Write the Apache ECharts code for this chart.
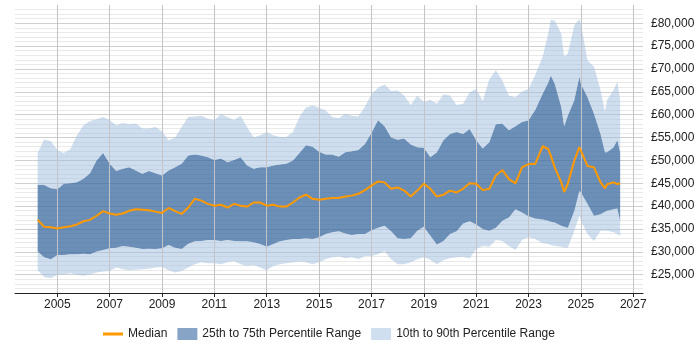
<!DOCTYPE html>
<html>
<head>
<meta charset="utf-8">
<script src="https://cdn.jsdelivr.net/npm/echarts@6/dist/echarts.min.js"></script>
<style>
  html, body { margin: 0; padding: 0; background: #fff; }
  #chart { width: 700px; height: 350px; }
</style>
</head>
<body>
<div id="chart"></div>
<script>
// decimal years of each sample
const years = [
  2004.25, 2004.5, 2004.75, 2005.0, 2005.25, 2005.5, 2005.75, 2006.0, 2006.25, 2006.5, 2006.75,
  2007.0, 2007.25, 2007.5, 2007.75, 2008.0, 2008.25, 2008.5, 2008.75, 2009.0, 2009.25, 2009.5, 2009.75,
  2010.0, 2010.25, 2010.5, 2010.75, 2011.0, 2011.25, 2011.5, 2011.75, 2012.0, 2012.25, 2012.5, 2012.75,
  2013.0, 2013.25, 2013.5, 2013.75, 2014.0, 2014.25, 2014.5, 2014.75, 2015.0, 2015.25, 2015.5, 2015.75,
  2016.0, 2016.25, 2016.5, 2016.75, 2017.0, 2017.25, 2017.5, 2017.75, 2018.0, 2018.25, 2018.5, 2018.75,
  2019.0, 2019.25, 2019.5, 2019.75, 2020.0, 2020.25, 2020.5, 2020.75, 2021.0, 2021.25, 2021.5, 2021.75,
  2022.0, 2022.25, 2022.5, 2022.75, 2023.0, 2023.25, 2023.54, 2023.75, 2023.85, 2024.0, 2024.25, 2024.36,
  2024.5, 2024.75, 2024.94, 2025.0, 2025.25, 2025.5, 2025.75, 2025.92, 2026.0, 2026.25, 2026.39, 2026.5
]

const p10 = [
  26000, 24500, 24200, 25000, 25100, 25300, 25000, 24800, 25100, 25500, 25700,
  25800, 26600, 26200, 26000, 26100, 26200, 26300, 26600, 26700, 26000, 25500, 25800,
  26600, 27300, 27700, 27500, 27500, 27300, 27700, 28000, 27300, 26900, 27100, 26600,
  26000, 26900, 27300, 27500, 27700, 27900, 27700, 27300, 27700, 28400, 28800, 29000,
  28600, 28800, 28400, 29100, 29100, 29500, 30200, 28400, 27300, 27300, 27700, 28400,
  28800, 28200, 27300, 28200, 28600, 28800, 28900, 28600, 30600, 31300, 31100, 32600,
  32400, 31300, 30400, 32600, 33200, 32800, 31900, 31700, 31500, 31300, 31100, 30900,
  30900, 34600, 37900, 36800, 33900, 32400, 34600, 34600, 34600, 34300, 33900, 33500
]

const p25 = [
  30100, 28800, 28400, 29300, 29300, 29500, 29500, 29600, 29500, 30100, 30400,
  30800, 30900, 31300, 31100, 30900, 30600, 30700, 30600, 30800, 31500, 30900, 30600,
  31800, 32300, 32400, 32600, 32600, 32400, 32600, 32400, 32300, 32300, 32100, 31700,
  31100, 31700, 32300, 32600, 32800, 32800, 33000, 32800, 33200, 33900, 34300, 34500,
  34000, 33700, 33900, 33900, 34700, 35300, 35700, 34500, 33000, 32800, 33000, 34600,
  35500, 33500, 31600, 32400, 33900, 34500, 36200, 36700, 36000, 35000, 34600, 35300,
  36800, 37500, 39300, 38600, 37800, 37300, 37100, 36800, 36600, 36400, 35700, 35500,
  35300, 39000, 43300, 43000, 40500, 37900, 38200, 38800, 39000, 39300, 39500, 36800
]

const median = [
  37000, 35500, 35400, 35100, 35400, 35600, 36000, 36700, 37000, 37900, 38900,
  38400, 38100, 38400, 39000, 39300, 39200, 39100, 38800, 38500, 39600, 38900, 38300,
  39700, 41600, 41200, 40500, 40100, 40300, 39700, 40500, 40100, 39900, 40800, 40800,
  40100, 40300, 39900, 39900, 40800, 41900, 42500, 41600, 41400, 41600, 41800, 41800,
  42100, 42300, 42700, 43500, 44500, 45400, 45200, 43800, 44100, 43400, 42100, 43400,
  44900, 43800, 42100, 42500, 43400, 43000, 43800, 45000, 44900, 43500, 43800, 46700,
  47900, 45900, 45000, 48500, 49200, 49200, 53100, 52500, 51000, 48500, 45200, 43100,
  44900, 50000, 52900, 52500, 48800, 48500, 45200, 43900, 44800, 45200, 44800, 45000
]

const p75 = [
  44700, 44600, 43900, 43700, 44900, 45000, 45200, 46000, 47200, 50000, 51600,
  49300, 47700, 48200, 48500, 47800, 47100, 47700, 47200, 46700, 47800, 48500, 49300,
  51100, 51300, 51100, 50700, 50100, 50400, 49600, 50100, 50700, 48900, 48200, 48500,
  48500, 48900, 49100, 49300, 50000, 51600, 53300, 53000, 51900, 51300, 51300, 50800,
  51800, 52000, 52300, 53600, 56000, 58800, 57500, 55000, 54500, 54800, 53500, 52900,
  52800, 50700, 51800, 54400, 55800, 56200, 55800, 56900, 54400, 52600, 54000, 57900,
  58000, 56600, 57500, 58400, 58800, 61000, 64600, 67000, 68600, 66800, 61700, 57500,
  59800, 63200, 68300, 66800, 63900, 60200, 55800, 51800, 51800, 52900, 54400, 51800
]

const p90 = [
  51600, 54600, 54200, 52300, 51600, 52500, 55500, 57700, 58600, 59000, 59500,
  58800, 57700, 58200, 57900, 58100, 57000, 57000, 57300, 56400, 54400, 55000, 57300,
  59500, 59600, 59800, 59100, 58800, 60100, 59500, 58800, 59800, 57300, 55000, 55500,
  56200, 55500, 55100, 55100, 56200, 59500, 61600, 62000, 61500, 60900, 59500, 59200,
  60200, 59800, 59600, 61800, 64500, 65900, 66600, 65200, 65300, 64200, 62100, 64200,
  62800, 63300, 62400, 64500, 64200, 62100, 62400, 64900, 65600, 63000, 67700, 69700,
  67500, 64200, 63800, 65100, 65600, 68600, 72700, 77700, 80800, 80600, 77700, 72700,
  73400, 79600, 80900, 80000, 71900, 70500, 65400, 60600, 63200, 65400, 67200, 63200
]

const yearTicks = [2005, 2007, 2009, 2011, 2013, 2015, 2017, 2019, 2021, 2023, 2025, 2027]

const darkBand = 'rgba(59,106,159,0.75)'
const lightBand = 'rgba(159,189,221,0.5)'
const font = 'Liberation Sans, Arial, sans-serif'

// polygon between two percentile lines, mapped through the chart axes
function bandSeries(name, lo, hi, fill) {
  return {
    name: name,
    type: 'custom',
    color: fill,
    silent: true,
    z: 2,
    data: [[years[0], lo[0]]],
    renderItem: function(params, api) {
      const pts = []
      for (let i = 0; i < years.length; i++) pts.push(api.coord([years[i], hi[i]]))
      for (let i = years.length - 1; i >= 0; i--) pts.push(api.coord([years[i], lo[i]]))
      return { type: 'polygon', shape: { points: pts }, style: { fill: fill } }
    }
  }
}

const chart = echarts.init(document.getElementById('chart'))
chart.setOption({
  animation: false,
  grid: { left: 15, right: 57, top: 5, bottom: 57, containLabel: false },
  legend: {
    left: 98,
    top: 323,
    itemWidth: 20,
    itemHeight: 12,
    itemGap: 10,
    textStyle: { color: '#222', fontSize: 12, fontFamily: font },
    data: [
      { name: 'Median', icon: 'path://M0,0H20V3H0Z', itemStyle: { color: '#ff9900' } },
      { name: '25th to 75th Percentile Range', icon: 'rect', itemStyle: { color: '#87a4c6' } },
      { name: '10th to 90th Percentile Range', icon: 'rect', itemStyle: { color: '#cfdfef' } }
    ]
  },
  xAxis: {
    type: 'value',
    min: 2003.384,
    max: 2027.372,
    axisLine: { onZero: false, lineStyle: { color: '#222' } },
    axisTick: { show: true, length: 4, customValues: yearTicks, lineStyle: { color: '#222' } },
    axisLabel: {
      customValues: yearTicks,
      margin: 6,
      color: '#222',
      fontSize: 12,
      fontFamily: font,
      formatter: function(v) { return String(Math.round(v)) }
    },
    splitLine: { show: false }
  },
  yAxis: {
    type: 'value',
    position: 'right',
    min: 21000,
    max: 84000,
    splitNumber: 12,
    axisLine: { show: false },
    axisTick: { show: false },
    axisLabel: {
      showMinLabel: false,
      showMaxLabel: false,
      color: '#222',
      fontSize: 12,
      fontFamily: font,
      formatter: function(v) { return '£' + v.toLocaleString('en-GB') }
    },
    splitLine: { show: true, showMaxLine: false, lineStyle: { color: '#cfcfcf' } },
    minorTick: { show: false, splitNumber: 5 },
    minorSplitLine: { show: true, lineStyle: { color: '#e9e9e9' } }
  },
  series: [
    {
      // vertical year grid lines
      name: 'yearGrid',
      type: 'line',
      data: [],
      z: 1,
      silent: true,
      markLine: {
        silent: true,
        symbol: 'none',
        label: { show: false },
        lineStyle: { color: '#c4c4c8', type: 'solid', width: 1 },
        data: yearTicks.map(y => ({ xAxis: y }))
      }
    },
    bandSeries('10th to 90th Percentile Range', p10, p25, lightBand),
    bandSeries('25th to 75th Percentile Range', p25, p75, darkBand),
    bandSeries('10th to 90th Percentile Range', p75, p90, lightBand),
    {
      name: 'Median',
      type: 'line',
      data: years.map((y, i) => [y, median[i]]),
      symbol: 'none',
      color: '#ff9900',
      lineStyle: { width: 2, color: '#ff9900' },
      z: 5
    }
  ]
})
</script>
</body>
</html>
